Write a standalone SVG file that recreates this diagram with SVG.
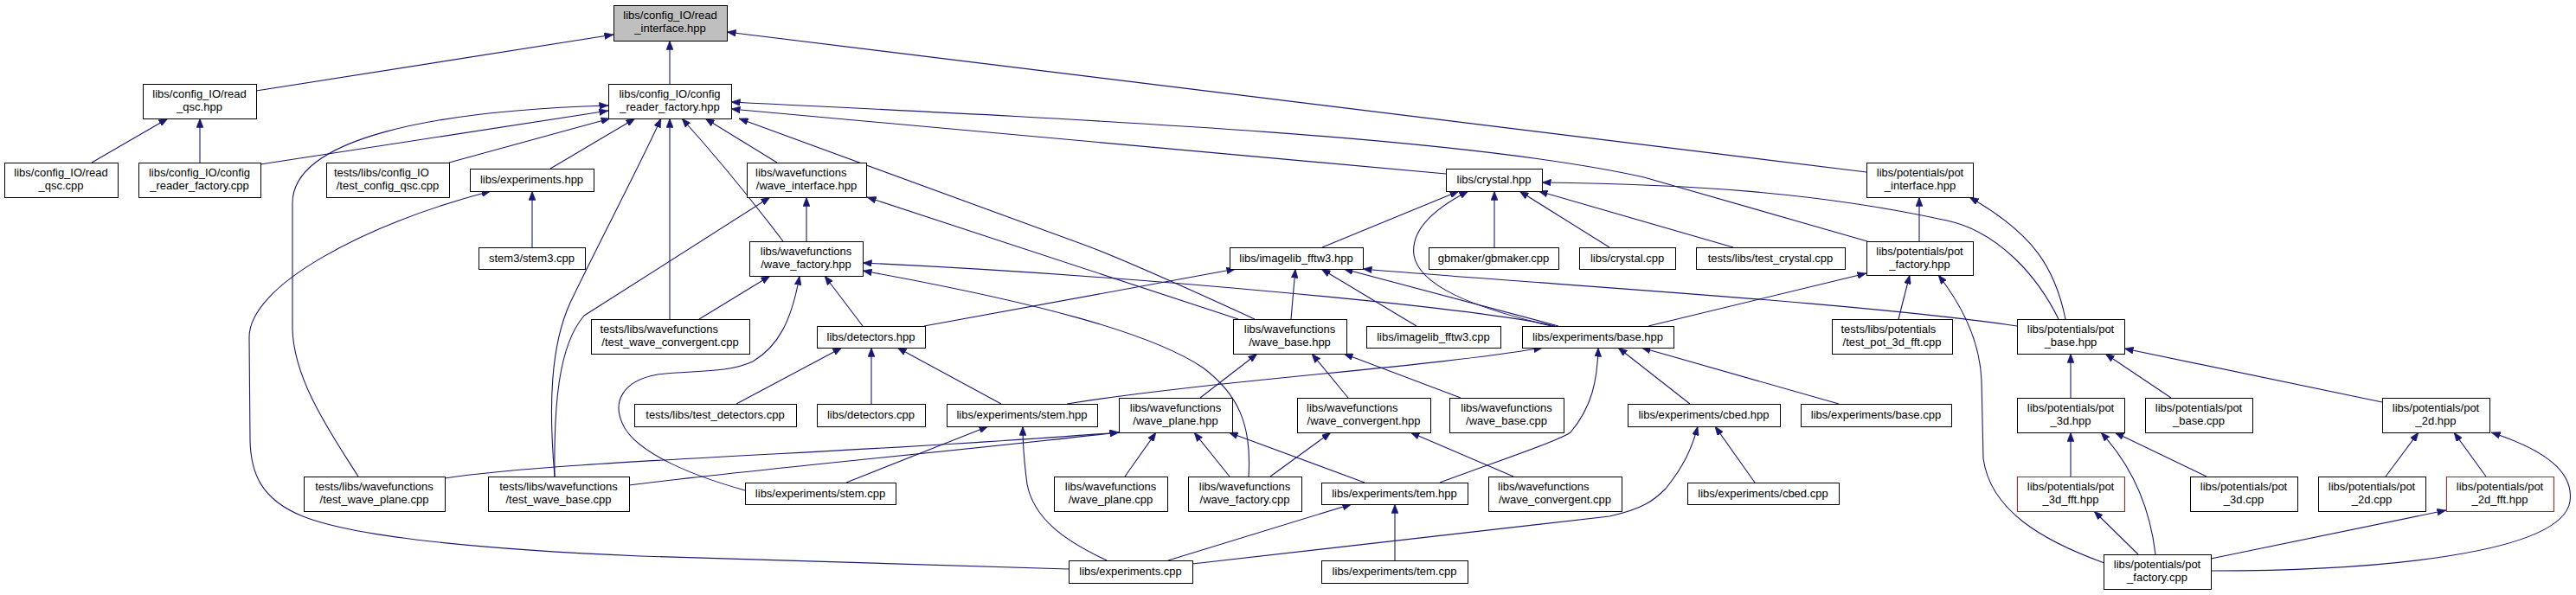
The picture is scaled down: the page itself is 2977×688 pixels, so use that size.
<svg xmlns="http://www.w3.org/2000/svg" width="2977" height="688" viewBox="0 0 2977 688">
<style>
.n rect{fill:#fff;stroke:#000;stroke-width:1}
.root rect{fill:#bfbfbf}
.red rect{stroke:#f00}
text{font-family:"Liberation Sans",Arial,Helvetica,sans-serif;font-size:13px;fill:#000}
.c{text-anchor:middle}
#edges path{fill:none;stroke:#191970;stroke-width:1.1;marker-end:url(#ah)}
</style>
<defs>
<marker id="ah" markerUnits="userSpaceOnUse" markerWidth="11" markerHeight="8" refX="10.5" refY="4" orient="auto"><path d="M0,0 L10.5,4 L0,8 z" fill="#191970" stroke="#191970" stroke-width="0.5"/></marker>
</defs>
<rect width="2977" height="688" fill="#fff"/>
<g id="edges">
<path d="M296,105 L709,40"/>
<path d="M774,97 L774,47"/>
<path d="M2157,199 L840,37"/>
<path d="M106,188 L194,137"/>
<path d="M231,188 L231,137"/>
<path d="M301,190 L703,128"/>
<path d="M519,188 L705,137"/>
<path d="M636,195 L734,137"/>
<path d="M414,551 C385,505 339,440 338,380 L338,235 C338,160 500,128 703,122"/>
<path d="M641,551 C634,470 636,400 659,350 C690,285 740,190 764,137"/>
<path d="M641,551 C640,470 645,400 675,365 L890,228"/>
<path d="M774,369 L774,137"/>
<path d="M905,279 Q845,200 788,137"/>
<path d="M898,188 L815,137"/>
<path d="M1450,369 C1380,337 1300,300 1250,282 L854,137"/>
<path d="M2158,279 L1900,205 C1700,160 1300,140 845,118"/>
<path d="M1671,201 L845,126"/>
<path d="M861,567 C800,550 740,525 722,495 C705,465 720,440 760,433 C800,428 840,432 870,418 C900,400 915,370 924,319"/>
<path d="M1235,658 L740,643 C600,637 420,625 350,597 C300,577 290,545 289,510 L288,390 C288,330 420,260 567,221"/>
<path d="M932,279 L932,228"/>
<path d="M1431,369 L1002,228"/>
<path d="M808,369 L890,319"/>
<path d="M997,377 L953,319"/>
<path d="M1443,551 C1447,490 1430,455 1390,425 C1330,385 1200,350 997,313"/>
<path d="M1797,377 C1700,355 1300,318 997,304"/>
<path d="M1528,286 L1686,221"/>
<path d="M1793,377 C1700,355 1640,330 1634,295 C1630,265 1660,240 1697,221"/>
<path d="M1727,286 L1727,221"/>
<path d="M1860,286 L1756,221"/>
<path d="M2003,286 L1778,221"/>
<path d="M2379,369 C2355,320 2310,268 2250,255 C2100,222 1950,213 1782,211"/>
<path d="M1492,369 L1497,311"/>
<path d="M1637,377 L1527,311"/>
<path d="M1801,377 L1553,311"/>
<path d="M2331,377 C2150,350 1800,330 1575,311"/>
<path d="M1068,377 L1428,311"/>
<path d="M1387,460 L1453,409"/>
<path d="M1558,460 L1516,409"/>
<path d="M1688,460 L1553,409"/>
<path d="M514,553 C650,532 1000,524 1293,500"/>
<path d="M727,561 C850,545 1100,522 1293,500"/>
<path d="M1300,551 L1336,500"/>
<path d="M1421,551 L1380,500"/>
<path d="M1577,558 L1420,500"/>
<path d="M1468,551 L1538,500"/>
<path d="M1749,551 L1630,500"/>
<path d="M978,558 L1142,493"/>
<path d="M1279,648 C1230,625 1195,600 1187,560 C1183,530 1182,515 1182,493"/>
<path d="M851,467 L973,402"/>
<path d="M1007,467 L1007,402"/>
<path d="M1157,467 L1037,402"/>
<path d="M1233,467 C1400,440 1650,425 1783,402"/>
<path d="M1664,558 C1740,530 1800,510 1815,500 C1840,470 1846,440 1847,402"/>
<path d="M1953,467 L1870,402"/>
<path d="M2125,467 L1897,402"/>
<path d="M1905,377 L2157,316"/>
<path d="M1350,648 L1562,583"/>
<path d="M1378,652 L1860,597 C1900,588 1912,578 1925,565 C1945,540 1955,520 1962,493"/>
<path d="M1612,648 L1612,583"/>
<path d="M2028,558 L1982,493"/>
<path d="M2218,279 L2218,228"/>
<path d="M2387,369 C2375,310 2350,270 2276,228"/>
<path d="M2194,369 L2207,318"/>
<path d="M2432,651 C2360,625 2300,590 2292,530 L2290,440 C2288,390 2265,350 2240,318"/>
<path d="M2393,460 L2393,409"/>
<path d="M2509,460 L2433,409"/>
<path d="M2753,465 L2455,403"/>
<path d="M2393,551 L2393,500"/>
<path d="M2550,551 L2444,500"/>
<path d="M2491,641 C2485,590 2465,540 2428,500"/>
<path d="M2471,641 L2420,591"/>
<path d="M2757,551 L2795,500"/>
<path d="M2873,551 L2836,500"/>
<path d="M2555,660 C2750,660 2960,640 2970,580 C2975,545 2940,520 2879,500"/>
<path d="M2555,646 L2827,590"/>
<path d="M615,286 L615,221"/>
</g>
<g id="n_root" class="n root"><rect x="709.5" y="6.5" width="131" height="41"/><text class="c" x="774.5" y="22">libs/config_IO/read</text><text class="c" x="774.5" y="37">_interface.hpp</text></g>
<g id="n_read_qsc_hpp" class="n"><rect x="165.5" y="97.5" width="131" height="40"/><text class="c" x="230.5" y="113">libs/config_IO/read</text><text class="c" x="230.5" y="128">_qsc.hpp</text></g>
<g id="n_crf_hpp" class="n"><rect x="703.5" y="97.5" width="142" height="40"/><text class="c" x="774" y="113">libs/config_IO/config</text><text class="c" x="774" y="128">_reader_factory.hpp</text></g>
<g id="n_read_qsc_cpp" class="n"><rect x="5.5" y="188.5" width="131" height="40"/><text class="c" x="70.5" y="204">libs/config_IO/read</text><text class="c" x="70.5" y="219">_qsc.cpp</text></g>
<g id="n_crf_cpp" class="n"><rect x="160.5" y="188.5" width="141" height="40"/><text class="c" x="230.5" y="204">libs/config_IO/config</text><text class="c" x="230.5" y="219">_reader_factory.cpp</text></g>
<g id="n_test_config_qsc" class="n"><rect x="377.5" y="188.5" width="142" height="40"/><text x="386" y="204">tests/libs/config_IO</text><text class="c" x="448" y="219">/test_config_qsc.cpp</text></g>
<g id="n_experiments_hpp" class="n"><rect x="543.5" y="195.5" width="143" height="26"/><text class="c" x="614.5" y="212">libs/experiments.hpp</text></g>
<g id="n_wave_interface" class="n"><rect x="863.5" y="188.5" width="138" height="40"/><text x="873" y="204">libs/wavefunctions</text><text class="c" x="932" y="219">/wave_interface.hpp</text></g>
<g id="n_crystal_hpp" class="n"><rect x="1671.5" y="195.5" width="111" height="26"/><text class="c" x="1726.5" y="212">libs/crystal.hpp</text></g>
<g id="n_pot_interface" class="n"><rect x="2157.5" y="188.5" width="123" height="40"/><text class="c" x="2219" y="204">libs/potentials/pot</text><text class="c" x="2219" y="219">_interface.hpp</text></g>
<g id="n_stem3" class="n"><rect x="553.5" y="286.5" width="123" height="25"/><text class="c" x="614.5" y="303">stem3/stem3.cpp</text></g>
<g id="n_wave_factory_hpp" class="n"><rect x="866.5" y="279.5" width="131" height="40"/><text class="c" x="931.5" y="295">libs/wavefunctions</text><text class="c" x="931.5" y="310">/wave_factory.hpp</text></g>
<g id="n_imagelib_hpp" class="n"><rect x="1421.5" y="286.5" width="154" height="25"/><text class="c" x="1498" y="303">libs/imagelib_fftw3.hpp</text></g>
<g id="n_gbmaker" class="n"><rect x="1651.5" y="286.5" width="150" height="25"/><text class="c" x="1726" y="303">gbmaker/gbmaker.cpp</text></g>
<g id="n_crystal_cpp" class="n"><rect x="1825.5" y="286.5" width="111" height="25"/><text class="c" x="1880.5" y="303">libs/crystal.cpp</text></g>
<g id="n_test_crystal" class="n"><rect x="1960.5" y="286.5" width="172" height="25"/><text class="c" x="2046" y="303">tests/libs/test_crystal.cpp</text></g>
<g id="n_pot_factory_hpp" class="n"><rect x="2157.5" y="279.5" width="123" height="39"/><text class="c" x="2218.5" y="295">libs/potentials/pot</text><text class="c" x="2218.5" y="310">_factory.hpp</text></g>
<g id="n_test_wave_convergent" class="n"><rect x="683.5" y="369.5" width="183" height="40"/><text x="693.5" y="385">tests/libs/wavefunctions</text><text class="c" x="774.5" y="400">/test_wave_convergent.cpp</text></g>
<g id="n_detectors_hpp" class="n"><rect x="944.5" y="377.5" width="125" height="25"/><text class="c" x="1006.5" y="394">libs/detectors.hpp</text></g>
<g id="n_wave_base_hpp" class="n"><rect x="1425.5" y="369.5" width="131" height="40"/><text class="c" x="1490.5" y="385">libs/wavefunctions</text><text class="c" x="1490.5" y="400">/wave_base.hpp</text></g>
<g id="n_imagelib_cpp" class="n"><rect x="1579.5" y="377.5" width="155" height="25"/><text class="c" x="1656.5" y="394">libs/imagelib_fftw3.cpp</text></g>
<g id="n_base_hpp" class="n"><rect x="1759.5" y="377.5" width="175" height="25"/><text class="c" x="1846.5" y="394">libs/experiments/base.hpp</text></g>
<g id="n_test_pot_3d_fft" class="n"><rect x="2117.5" y="369.5" width="139" height="40"/><text x="2127.5" y="385">tests/libs/potentials</text><text class="c" x="2186.5" y="400">/test_pot_3d_fft.cpp</text></g>
<g id="n_pot_base_hpp" class="n"><rect x="2331.5" y="369.5" width="124" height="40"/><text class="c" x="2393" y="385">libs/potentials/pot</text><text class="c" x="2393" y="400">_base.hpp</text></g>
<g id="n_test_detectors" class="n"><rect x="733.5" y="467.5" width="187" height="26"/><text class="c" x="826.5" y="484">tests/libs/test_detectors.cpp</text></g>
<g id="n_detectors_cpp" class="n"><rect x="944.5" y="467.5" width="125" height="26"/><text class="c" x="1006.5" y="484">libs/detectors.cpp</text></g>
<g id="n_stem_hpp" class="n"><rect x="1094.5" y="467.5" width="174" height="26"/><text class="c" x="1181" y="484">libs/experiments/stem.hpp</text></g>
<g id="n_wave_plane_hpp" class="n"><rect x="1293.5" y="460.5" width="131" height="40"/><text class="c" x="1358.5" y="476">libs/wavefunctions</text><text class="c" x="1358.5" y="491">/wave_plane.hpp</text></g>
<g id="n_wave_convergent_hpp" class="n"><rect x="1499.5" y="460.5" width="154" height="40"/><text x="1510" y="476">libs/wavefunctions</text><text class="c" x="1576" y="491">/wave_convergent.hpp</text></g>
<g id="n_wave_base_cpp" class="n"><rect x="1675.5" y="460.5" width="132" height="40"/><text class="c" x="1741" y="476">libs/wavefunctions</text><text class="c" x="1741" y="491">/wave_base.cpp</text></g>
<g id="n_cbed_hpp" class="n"><rect x="1881.5" y="467.5" width="176" height="26"/><text class="c" x="1969" y="484">libs/experiments/cbed.hpp</text></g>
<g id="n_base_cpp" class="n"><rect x="2081.5" y="467.5" width="174" height="26"/><text class="c" x="2168" y="484">libs/experiments/base.cpp</text></g>
<g id="n_pot_3d_hpp" class="n"><rect x="2331.5" y="460.5" width="124" height="40"/><text class="c" x="2393" y="476">libs/potentials/pot</text><text class="c" x="2393" y="491">_3d.hpp</text></g>
<g id="n_pot_base_cpp" class="n"><rect x="2479.5" y="460.5" width="124" height="40"/><text class="c" x="2541" y="476">libs/potentials/pot</text><text class="c" x="2541" y="491">_base.cpp</text></g>
<g id="n_pot_2d_hpp" class="n"><rect x="2753.5" y="460.5" width="124" height="40"/><text class="c" x="2815" y="476">libs/potentials/pot</text><text class="c" x="2815" y="491">_2d.hpp</text></g>
<g id="n_test_wave_plane" class="n"><rect x="351.5" y="551.5" width="163" height="40"/><text class="c" x="432.5" y="567">tests/libs/wavefunctions</text><text class="c" x="432.5" y="582">/test_wave_plane.cpp</text></g>
<g id="n_test_wave_base" class="n"><rect x="564.5" y="551.5" width="163" height="40"/><text class="c" x="645.5" y="567">tests/libs/wavefunctions</text><text class="c" x="645.5" y="582">/test_wave_base.cpp</text></g>
<g id="n_stem_cpp" class="n"><rect x="861.5" y="558.5" width="174" height="25"/><text class="c" x="948" y="575">libs/experiments/stem.cpp</text></g>
<g id="n_wave_plane_cpp" class="n"><rect x="1218.5" y="551.5" width="131" height="40"/><text class="c" x="1283.5" y="567">libs/wavefunctions</text><text class="c" x="1283.5" y="582">/wave_plane.cpp</text></g>
<g id="n_wave_factory_cpp" class="n"><rect x="1373.5" y="551.5" width="131" height="40"/><text class="c" x="1438.5" y="567">libs/wavefunctions</text><text class="c" x="1438.5" y="582">/wave_factory.cpp</text></g>
<g id="n_tem_hpp" class="n"><rect x="1527.5" y="558.5" width="169" height="25"/><text class="c" x="1611.5" y="575">libs/experiments/tem.hpp</text></g>
<g id="n_wave_convergent_cpp" class="n"><rect x="1720.5" y="551.5" width="154" height="40"/><text x="1731" y="567">libs/wavefunctions</text><text class="c" x="1797" y="582">/wave_convergent.cpp</text></g>
<g id="n_cbed_cpp" class="n"><rect x="1950.5" y="558.5" width="175" height="25"/><text class="c" x="2037.5" y="575">libs/experiments/cbed.cpp</text></g>
<g id="n_pot_3d_fft_hpp" class="n red"><rect x="2331.5" y="551.5" width="124" height="40"/><text class="c" x="2393" y="567">libs/potentials/pot</text><text class="c" x="2393" y="582">_3d_fft.hpp</text></g>
<g id="n_pot_3d_cpp" class="n"><rect x="2531.5" y="551.5" width="124" height="40"/><text class="c" x="2593" y="567">libs/potentials/pot</text><text class="c" x="2593" y="582">_3d.cpp</text></g>
<g id="n_pot_2d_cpp" class="n"><rect x="2679.5" y="551.5" width="124" height="40"/><text class="c" x="2741" y="567">libs/potentials/pot</text><text class="c" x="2741" y="582">_2d.cpp</text></g>
<g id="n_pot_2d_fft_hpp" class="n red"><rect x="2827.5" y="551.5" width="124" height="40"/><text class="c" x="2889" y="567">libs/potentials/pot</text><text class="c" x="2889" y="582">_2d_fft.hpp</text></g>
<g id="n_experiments_cpp" class="n"><rect x="1235.5" y="648.5" width="143" height="26"/><text class="c" x="1306.5" y="665">libs/experiments.cpp</text></g>
<g id="n_tem_cpp" class="n"><rect x="1527.5" y="648.5" width="169" height="26"/><text class="c" x="1611.5" y="665">libs/experiments/tem.cpp</text></g>
<g id="n_pot_factory_cpp" class="n"><rect x="2431.5" y="641.5" width="124" height="40"/><text class="c" x="2493" y="657">libs/potentials/pot</text><text class="c" x="2493" y="672">_factory.cpp</text></g>
</svg>
